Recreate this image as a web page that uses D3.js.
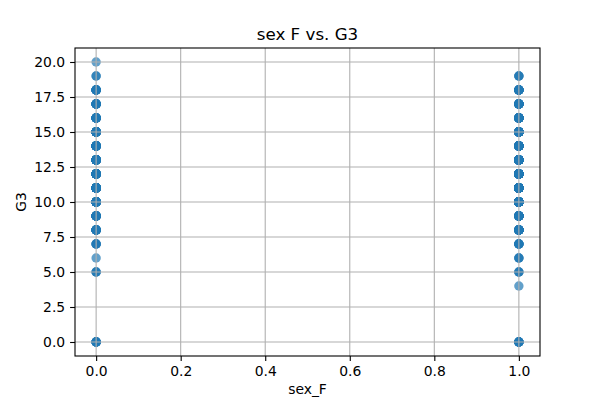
<!DOCTYPE html>
<html>
<head>
<meta charset="utf-8">
<script src="https://cdn.jsdelivr.net/npm/d3@7"></script>
<style>
  body { margin: 0; background: #fff; }
  text { font-family: "DejaVu Sans", sans-serif; fill: #000; }
</style>
</head>
<body>
<div id="chart"></div>
<script>
// G3 grades seen for each sex_F group, with how many students stack on each dot
var g3Male = [0, 5, 6, 7, 8, 9, 10, 11, 12, 13, 14, 15, 16, 17, 18, 19, 20];
var countMale = [7, 3, 1, 4, 12, 14, 30, 40, 30, 32, 22, 28, 12, 10, 9, 2, 1];
var g3Female = [0, 4, 5, 6, 7, 8, 9, 10, 11, 12, 13, 14, 15, 16, 17, 18, 19];
var countFemale = [8, 1, 3, 3, 6, 20, 20, 60, 60, 42, 40, 30, 33, 24, 15, 12, 3];
var xTicks = [0.0, 0.2, 0.4, 0.6, 0.8, 1.0];
var yTicks = [0.0, 2.5, 5.0, 7.5, 10.0, 12.5, 15.0, 17.5, 20.0];

var W = 600, H = 400;
var m = {left: 75, right: 60, top: 48, bottom: 44};

var svg = d3.select("#chart").append("svg")
  .attr("width", W).attr("height", H);

var x = d3.scaleLinear().domain([-0.05, 1.05]).range([m.left, W - m.right]);
var y = d3.scaleLinear().domain([-1, 21]).range([H - m.bottom, m.top]);

// flatten to one point per student
var pts = [];
g3Male.forEach(function(v, i) {
  for (var k = 0; k < countMale[i]; k++) pts.push({sx: 0, g3: v});
});
g3Female.forEach(function(v, i) {
  for (var k = 0; k < countFemale[i]; k++) pts.push({sx: 1, g3: v});
});

svg.append("g").selectAll("circle")
  .data(pts)
  .enter().append("circle")
  .attr("cx", function(d) { return x(d.sx); })
  .attr("cy", function(d) { return y(d.g3); })
  .attr("r", 4.7)
  .attr("fill", "#1f77b4")
  .attr("fill-opacity", 0.7);

// grid (drawn above the dots, like matplotlib)
var grid = svg.append("g");
grid.selectAll("line.vx").data(xTicks).enter().append("line")
  .attr("x1", function(d) { return x(d); }).attr("x2", function(d) { return x(d); })
  .attr("y1", m.top).attr("y2", H - m.bottom)
  .attr("stroke", "#b0b0b0").attr("stroke-width", 1.1);
grid.selectAll("line.hy").data(yTicks).enter().append("line")
  .attr("y1", function(d) { return y(d); }).attr("y2", function(d) { return y(d); })
  .attr("x1", m.left).attr("x2", W - m.right)
  .attr("stroke", "#b0b0b0").attr("stroke-width", 1.1);

var xAxis = d3.axisBottom(x).tickValues(xTicks).tickFormat(d3.format(".1f"))
  .tickSize(4.9).tickPadding(4.9);
var yAxis = d3.axisLeft(y).tickValues(yTicks).tickFormat(d3.format(".1f"))
  .tickSize(4.9).tickPadding(4.9);

var gx = svg.append("g").attr("transform", "translate(0," + (H - m.bottom) + ")").call(xAxis);
var gy = svg.append("g").attr("transform", "translate(" + m.left + ",0)").call(yAxis);
[gx, gy].forEach(function(g) {
  g.select(".domain").remove();
  g.selectAll(".tick line").attr("stroke", "#000").attr("stroke-width", 1.1);
  g.selectAll(".tick text").style("font-size", "13.9px").style("font-family", "DejaVu Sans");
});

// frame
svg.append("rect")
  .attr("x", m.left).attr("y", m.top)
  .attr("width", W - m.left - m.right).attr("height", H - m.top - m.bottom)
  .attr("fill", "none").attr("stroke", "#000").attr("stroke-width", 1.1);

svg.append("text")
  .attr("x", (m.left + W - m.right) / 2).attr("y", m.top - 8.3)
  .attr("text-anchor", "middle").style("font-size", "16.7px")
  .text("sex F vs. G3");

svg.append("text")
  .attr("x", (m.left + W - m.right) / 2).attr("y", H - 6)
  .attr("text-anchor", "middle").style("font-size", "13.9px")
  .text("sex_F");

svg.append("text")
  .attr("transform", "translate(26," + ((m.top + H - m.bottom) / 2) + ") rotate(-90)")
  .attr("text-anchor", "middle").style("font-size", "13.9px")
  .text("G3");
</script>
</body>
</html>
